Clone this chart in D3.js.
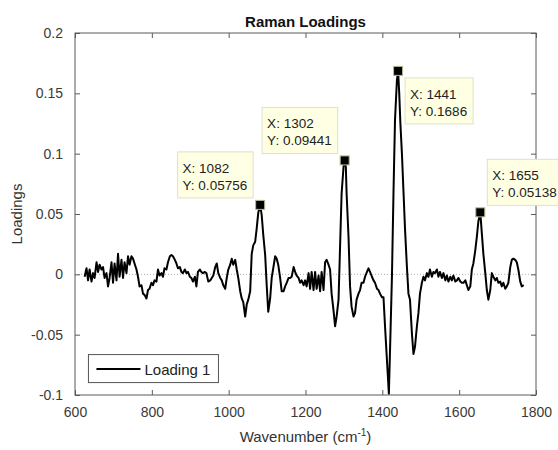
<!DOCTYPE html>
<html>
<head>
<meta charset="utf-8">
<script src="https://cdn.jsdelivr.net/npm/d3@7"></script>
<style>
  body { margin: 0; background: #fff; }
  text { font-family: "Liberation Sans", Arial, Helvetica, sans-serif; fill: #333; }
</style>
</head>
<body>
<div id="chart"></div>
<script>
// wavenumber (cm-1) and loading values
let wavenumber = [
  625, 630, 634, 638, 643, 647, 651, 656, 660, 664, 669, 673, 677, 682, 686, 690,
  695, 699, 703, 708, 712, 716, 721, 725, 729, 734, 738, 742, 747, 751, 755, 760,
  764, 768, 773, 777, 781, 786, 790, 794, 799, 803, 807, 812, 816, 820, 825, 829,
  833, 838, 842, 847, 851, 855, 860, 864, 868, 873, 877, 881, 886, 890, 894, 899,
  903, 907, 912, 916, 920, 925, 929, 933, 938, 942, 947, 952, 956, 960, 965, 969,
  973, 978, 982, 986, 991, 995, 999, 1004, 1008, 1012, 1017, 1021, 1025, 1030, 1034, 1038,
  1043, 1047, 1051, 1056, 1060, 1064, 1069, 1073, 1077, 1082, 1086, 1090, 1095, 1099, 1103, 1108,
  1112, 1116, 1121, 1125, 1129, 1134, 1138, 1143, 1147, 1151, 1156, 1160, 1164, 1169, 1173, 1177,
  1182, 1186, 1190, 1195, 1199, 1203, 1208, 1212, 1216, 1221, 1225, 1229, 1234, 1238, 1242, 1247,
  1251, 1255, 1260, 1264, 1268, 1273, 1277, 1281, 1286, 1290, 1294, 1299, 1302, 1305, 1307, 1312,
  1316, 1320, 1325, 1329, 1333, 1338, 1342, 1346, 1351, 1355, 1360, 1364, 1368, 1373, 1377, 1381,
  1386, 1390, 1394, 1399, 1403, 1407, 1412, 1417, 1420, 1425, 1429, 1433, 1438, 1441, 1444, 1447,
  1451, 1455, 1459, 1464, 1468, 1472, 1477, 1481, 1485, 1490, 1494, 1498, 1503, 1507, 1511, 1516,
  1520, 1524, 1529, 1533, 1537, 1542, 1546, 1550, 1555, 1559, 1564, 1568, 1572, 1577, 1581, 1585,
  1590, 1594, 1598, 1603, 1607, 1611, 1616, 1620, 1624, 1629, 1633, 1637, 1642, 1646, 1650, 1655,
  1659, 1663, 1668, 1672, 1676, 1681, 1685, 1689, 1694, 1698, 1702, 1707, 1711, 1715, 1720, 1724,
  1728, 1733, 1737, 1741, 1746, 1750, 1754, 1759, 1763, 1768
];
let loading = [
  -0.002, 0.005, -0.005, 0.004, -0.006, 0.001, -0.003, 0.010, 0.002, 0.008, 0.004, 0.006, -0.003, 0.001, -0.010, -0.003,
  0.010, -0.007, 0.009, -0.005, 0.017, -0.002, 0.012, -0.003, 0.010, 0.001, 0.015, 0.008, 0.015, 0.013, 0.009, 0.004,
  -0.002, -0.010, -0.009, -0.016, -0.017, -0.020, -0.013, -0.012, -0.007, -0.009, -0.005, -0.006, 0.004, -0.001, 0.001, -0.002,
  0.005, 0.004, 0.010, 0.015, 0.016, 0.015, 0.012, 0.009, 0.005, 0.006, 0.002, 0.001, 0.004, 0.001, 0.002, -0.002,
  -0.003, -0.006, -0.002, -0.010, 0.002, 0.004, 0.002, 0.001, 0.002, 0.001, -0.006, -0.005, -0.003, -0.001, 0.006, 0.009,
  0.001, -0.003, -0.005, -0.009, -0.012, -0.003, 0.004, 0.008, 0.013, 0.008, 0.012, 0.004, -0.003, -0.014, -0.020, -0.023,
  -0.035, -0.025, -0.021, -0.014, 0.017, 0.024, 0.027, 0.038, 0.051, 0.05756, 0.049, 0.033, 0.016, -0.009, -0.031, -0.020,
  -0.003, 0.005, 0.015, 0.013, 0.008, -0.003, -0.014, -0.014, -0.010, -0.007, -0.003, -0.003, -0.002, 0.006, 0.002, -0.001,
  -0.003, -0.007, -0.005, -0.009, -0.005, -0.010, 0.001, -0.012, 0.002, -0.013, 0.002, -0.012, -0.001, -0.014, 0.002, -0.013,
  0.010, 0.012, 0.008, 0.004, -0.016, -0.030, -0.043, -0.035, -0.021, 0.023, 0.067, 0.089, 0.09441, 0.089, 0.067, 0.031,
  -0.010, -0.027, -0.035, -0.032, -0.021, -0.016, -0.013, -0.007, -0.007, -0.002, 0.002, 0.005, 0.002, -0.002, -0.005, -0.007,
  -0.012, -0.013, -0.016, -0.019, -0.019, -0.043, -0.071, -0.099, -0.063, -0.002, 0.067, 0.128, 0.161, 0.1686, 0.150, 0.125,
  0.100, 0.069, 0.038, 0.006, -0.016, -0.021, -0.049, -0.066, -0.060, -0.043, -0.032, -0.016, -0.007, -0.002, -0.005, 0.001,
  -0.002, 0.004, -0.002, 0.002, 0.001, 0.004, -0.002, 0.002, -0.003, 0.001, -0.005, -0.001, -0.006, -0.002, -0.005, -0.001,
  -0.006, -0.005, -0.003, -0.006, -0.007, -0.007, -0.005, -0.009, -0.013, -0.010, 0.004, 0.009, 0.020, 0.031, 0.044, 0.05138,
  0.034, 0.017, 0.001, -0.013, -0.021, -0.013, 0.001, -0.002, -0.005, -0.003, -0.007, -0.006, -0.010, -0.007, -0.012, -0.010,
  -0.007, 0.006, 0.012, 0.013, 0.012, 0.010, 0.004, -0.006, -0.010, -0.009
];

// data tips
let tip_x = [1082, 1302, 1441, 1655];
let tip_y = [0.05756, 0.09441, 0.1686, 0.05138];
let tip_side = ['nw', 'nw', 'se', 'ne'];

let x_ticks = [600, 800, 1000, 1200, 1400, 1600, 1800];
let y_ticks = [-0.1, -0.05, 0, 0.05, 0.1, 0.15, 0.2];
let y_tick_labels = ['-0.1', '-0.05', '0', '0.05', '0.1', '0.15', '0.2'];

let svg_width = 558;
let svg_height = 450;

let margin = { top: 33, right: 22, bottom: 55, left: 75 };
let width = svg_width - margin.left - margin.right;
let height = svg_height - margin.top - margin.bottom;

let svg = d3.select('#chart').append('svg')
  .attr('width', svg_width)
  .attr('height', svg_height);

let g = svg.append('g')
  .attr('transform', `translate(${margin.left}, ${margin.top})`);

let x = d3.scaleLinear().domain([600, 1800]).range([0, width]);
let y = d3.scaleLinear().domain([-0.1, 0.2]).range([height, 0]);

// zero reference line
g.append('line')
  .attr('x1', 0).attr('x2', width)
  .attr('y1', y(0)).attr('y2', y(0))
  .attr('stroke', '#b0b0b0')
  .attr('stroke-width', 1)
  .attr('stroke-dasharray', '1,2');

// spectrum line
let data = wavenumber.map((w, i) => ({ w: w, v: loading[i] }));
g.append('path')
  .datum(data)
  .attr('fill', 'none')
  .attr('stroke', '#000')
  .attr('stroke-width', 2)
  .attr('stroke-linejoin', 'round')
  .attr('d', d3.line().x(d => x(d.w)).y(d => y(d.v)));

// axes, ticks inward on all four sides
let axis_color = '#5a5a5a';
function styleAxis(sel) {
  sel.select('.domain').remove();
  sel.selectAll('.tick line').attr('stroke', axis_color);
  sel.selectAll('.tick text')
    .style('font-size', '14px')
    .style('fill', '#3a3a3a');
}

g.append('g')
  .attr('transform', `translate(0, ${height})`)
  .call(d3.axisBottom(x).tickValues(x_ticks).tickSizeInner(-5).tickSizeOuter(0).tickPadding(12)
    .tickFormat(d => `${d}`))
  .call(styleAxis);

g.append('g')
  .call(d3.axisTop(x).tickValues(x_ticks).tickSizeInner(-5).tickSizeOuter(0).tickFormat(''))
  .call(styleAxis);

g.append('g')
  .call(d3.axisLeft(y).tickValues(y_ticks).tickSizeInner(-5).tickSizeOuter(0).tickPadding(12)
    .tickFormat((d, i) => y_tick_labels[i]))
  .call(styleAxis);

g.append('g')
  .attr('transform', `translate(${width}, 0)`)
  .call(d3.axisRight(y).tickValues(y_ticks).tickSizeInner(-5).tickSizeOuter(0).tickFormat(''))
  .call(styleAxis);

// box
g.append('rect')
  .attr('x', 0).attr('y', 0)
  .attr('width', width).attr('height', height)
  .attr('fill', 'none')
  .attr('stroke', axis_color)
  .attr('stroke-width', 1);

// title and labels
svg.append('text')
  .attr('x', margin.left + width / 2)
  .attr('y', 27)
  .attr('text-anchor', 'middle')
  .style('font-size', '15px')
  .style('font-weight', 'bold')
  .style('fill', '#111')
  .text('Raman Loadings');

let xlabel = svg.append('text')
  .attr('x', margin.left + width / 2)
  .attr('y', 442)
  .attr('text-anchor', 'middle')
  .style('font-size', '15px');
xlabel.append('tspan').text('Wavenumber (cm');
xlabel.append('tspan').attr('dy', -6).style('font-size', '10px').text('-1');
xlabel.append('tspan').attr('dy', 6).text(')');

svg.append('text')
  .attr('transform', `translate(22, ${margin.top + height / 2}) rotate(-90)`)
  .attr('text-anchor', 'middle')
  .style('font-size', '15px')
  .text('Loadings');

// legend
let legend = g.append('g')
  .attr('transform', `translate(${x(635) }, ${y(-0.0665)})`);
legend.append('rect')
  .attr('width', 130).attr('height', 28)
  .attr('fill', '#fff')
  .attr('stroke', '#555')
  .attr('stroke-width', 1);
legend.append('line')
  .attr('x1', 8).attr('x2', 52)
  .attr('y1', 14.5).attr('y2', 14.5)
  .attr('stroke', '#000')
  .attr('stroke-width', 2);
legend.append('text')
  .attr('x', 56).attr('y', 20)
  .style('font-size', '15px')
  .style('fill', '#222')
  .text('Loading 1');

// data tips
let gap = 7;
tip_x.forEach(function(tx, i) {
  let mx = x(tx);
  let my = y(tip_y[i]);
  let tip = g.append('g');

  let label = tip.append('text')
    .style('font-size', '13.5px')
    .style('fill', '#222');
  label.append('tspan').attr('x', 0).attr('y', 0).text(`X: ${tx}`);
  label.append('tspan').attr('x', 0).attr('y', 17).text(`Y: ${tip_y[i]}`);

  let bb = label.node().getBBox();
  let bw = bb.width + 11;
  let bh = 46;
  let side = tip_side[i];
  let bx = side.includes('w') ? mx - gap - bw : mx + gap;
  let by = side.includes('n') ? my - gap - bh : my + gap;

  tip.insert('rect', 'text')
    .attr('x', bx).attr('y', by)
    .attr('width', bw).attr('height', bh)
    .attr('fill', '#ffffe3')
    .attr('stroke', '#e0e0c8')
    .attr('stroke-width', 1);
  label.attr('transform', `translate(${bx + 5}, ${by + 21})`);

  g.append('rect')
    .attr('x', mx - 4.5).attr('y', my - 4.5)
    .attr('width', 9).attr('height', 9)
    .attr('fill', '#000')
    .attr('stroke', '#b8b890')
    .attr('stroke-width', 1);
});
</script>
</body>
</html>
